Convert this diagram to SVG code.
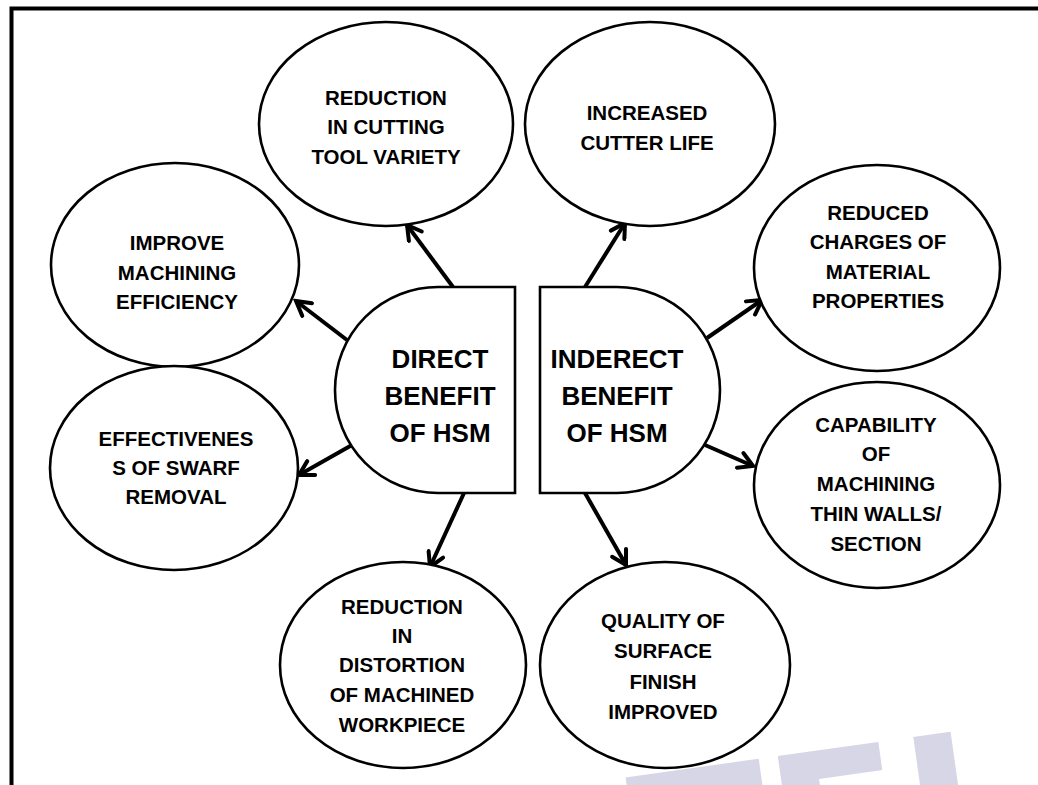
<svg xmlns="http://www.w3.org/2000/svg" width="1038" height="785" viewBox="0 0 1038 785">
<defs>
<style>
.ell{fill:#fff;stroke:#000;stroke-width:2.6}
.ctr{fill:#fff;stroke:#000;stroke-width:2.6}
.t{font-family:"Liberation Sans",Arial,sans-serif;font-weight:bold;font-size:20.5px;fill:#000;text-anchor:middle}
.tc{font-family:"Liberation Sans",Arial,sans-serif;font-weight:bold;font-size:26px;fill:#000;text-anchor:middle}
.arr{fill:none;stroke:#000;stroke-width:4;marker-end:url(#ah)}
.wm{font-family:"DejaVu Sans",sans-serif;font-weight:bold;font-size:200px;fill:#d6d6e6}
</style>
<marker id="ah" viewBox="0 0 20 20" refX="17" refY="10" markerWidth="20" markerHeight="20" orient="auto" markerUnits="userSpaceOnUse">
<path d="M3,2 L17,10 L3,18" fill="none" stroke="#000" stroke-width="4" stroke-linecap="round" stroke-linejoin="miter"/>
</marker>
</defs>
<rect width="1038" height="785" fill="#fff"/>
<g id="watermark">
<text class="wm" x="645" y="922" transform="rotate(-8 645 922)">TEL IN</text>
</g>
<g id="frame">
<path d="M11.5,785 V8.5 H1038" fill="none" stroke="#000" stroke-width="4"/>
</g>
<g id="connectors">
<line class="arr" x1="453" y1="287" x2="407" y2="225"/>
<line class="arr" x1="347" y1="340" x2="296" y2="301"/>
<line class="arr" x1="352" y1="445" x2="299" y2="475"/>
<line class="arr" x1="464" y1="493" x2="430" y2="567"/>
<line class="arr" x1="585" y1="287" x2="625" y2="223"/>
<line class="arr" x1="707" y1="338" x2="762" y2="300"/>
<line class="arr" x1="705" y1="445" x2="753" y2="466"/>
<line class="arr" x1="585" y1="493" x2="626" y2="565"/>
</g>
<g id="direct">
<path class="ctr" d="M515,287 V493 H438 A103,103 0 0 1 438,287 Z"/>
<text class="tc" x="440" y="368">DIRECT</text>
<text class="tc" x="440" y="405">BENEFIT</text>
<text class="tc" x="440" y="442">OF HSM</text>
</g>
<g id="indirect">
<path class="ctr" d="M540,287 V493 H617 A103,103 0 0 0 617,287 Z"/>
<text class="tc" x="617" y="368">INDERECT</text>
<text class="tc" x="617" y="405">BENEFIT</text>
<text class="tc" x="617" y="442">OF HSM</text>
</g>
<g id="n-tool-variety">
<ellipse class="ell" cx="386" cy="124" rx="127" ry="102"/>
<text class="t" x="386" y="105">REDUCTION</text>
<text class="t" x="386" y="134">IN CUTTING</text>
<text class="t" x="386" y="164">TOOL VARIETY</text>
</g>
<g id="n-cutter-life">
<ellipse class="ell" cx="650" cy="124" rx="125" ry="102"/>
<text class="t" x="647" y="120">INCREASED</text>
<text class="t" x="647" y="150">CUTTER LIFE</text>
</g>
<g id="n-efficiency">
<ellipse class="ell" cx="175" cy="265" rx="124" ry="102"/>
<text class="t" x="177" y="250">IMPROVE</text>
<text class="t" x="177" y="280">MACHINING</text>
<text class="t" x="177" y="309">EFFICIENCY</text>
</g>
<g id="n-swarf">
<ellipse class="ell" cx="174" cy="468" rx="124" ry="102"/>
<text class="t" x="176" y="446">EFFECTIVENES</text>
<text class="t" x="176" y="475">S OF SWARF</text>
<text class="t" x="176" y="504">REMOVAL</text>
</g>
<g id="n-distortion">
<ellipse class="ell" cx="403" cy="665" rx="123" ry="103"/>
<text class="t" x="402" y="614">REDUCTION</text>
<text class="t" x="402" y="643">IN</text>
<text class="t" x="402" y="672">DISTORTION</text>
<text class="t" x="402" y="702">OF MACHINED</text>
<text class="t" x="402" y="732">WORKPIECE</text>
</g>
<g id="n-surface">
<ellipse class="ell" cx="665" cy="665" rx="125" ry="103"/>
<text class="t" x="663" y="628">QUALITY OF</text>
<text class="t" x="663" y="658">SURFACE</text>
<text class="t" x="663" y="689">FINISH</text>
<text class="t" x="663" y="719">IMPROVED</text>
</g>
<g id="n-material">
<ellipse class="ell" cx="877" cy="268" rx="123" ry="103"/>
<text class="t" x="878" y="220">REDUCED</text>
<text class="t" x="878" y="249">CHARGES OF</text>
<text class="t" x="878" y="279">MATERIAL</text>
<text class="t" x="878" y="308">PROPERTIES</text>
</g>
<g id="n-thin-walls">
<ellipse class="ell" cx="877" cy="485" rx="123" ry="103"/>
<text class="t" x="876" y="432">CAPABILITY</text>
<text class="t" x="876" y="461">OF</text>
<text class="t" x="876" y="491">MACHINING</text>
<text class="t" x="876" y="521">THIN WALLS/</text>
<text class="t" x="876" y="551">SECTION</text>
</g>
</svg>
